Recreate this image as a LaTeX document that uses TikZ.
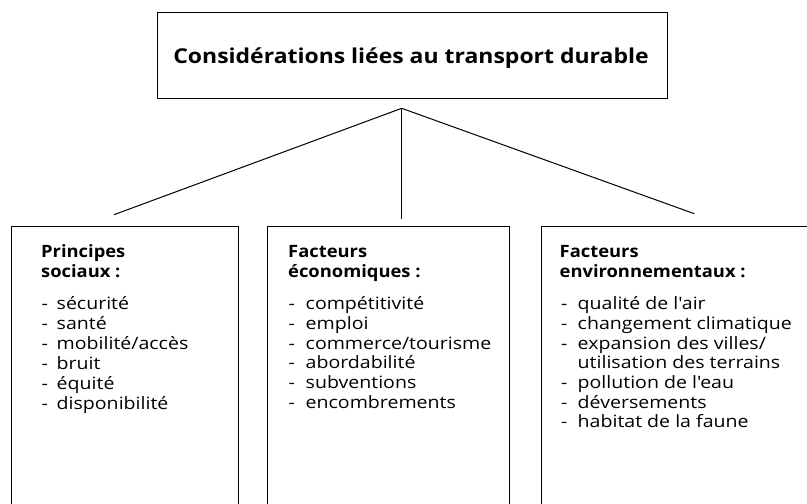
\documentclass[tikz,border=0pt]{standalone}
\usepackage{fontspec}
\setmainfont{Open Sans}[Ligatures=TeXOff]
% slightly widened cuts of the same family for the different text blocks
\newfontfamily\titlefam{Open Sans}[Ligatures=TeXOff,FakeStretch=1.12]
\newfontfamily\headfam{Open Sans}[Ligatures=TeXOff,FakeStretch=1.08]
\newfontfamily\itemfam{Open Sans}[Ligatures=TeXOff,FakeStretch=1.15]
\begin{document}
\begin{tikzpicture}[x=1pt,y=-1pt,
  boxline/.style={draw=black,line width=1.1pt},
  link/.style={draw=black,line width=1pt},
  head/.style={anchor=base west,inner sep=0pt,font=\headfam\fontsize{17}{20}\selectfont\bfseries},
  item/.style={anchor=base west,inner sep=0pt,font=\itemfam\fontsize{17}{20}\selectfont},
  title/.style={font=\titlefam\fontsize{20.5}{24}\selectfont\bfseries,inner sep=0pt}]
\useasboundingbox (0,0) rectangle (807,504);
\clip (0,0) rectangle (807,504);

% top box
\node[boxline,minimum width=510pt,minimum height=86.5pt,anchor=north west,inner sep=0pt] (top) at (156.7,11.8) {};
\node[title,anchor=base] (toptxt) at (411,63) {Considérations liées au transport durable};

% connectors
\coordinate (apex) at (401.7,108.3);
\coordinate (endL) at (114,214.7);
\coordinate (endM) at (401.7,219);
\coordinate (endR) at (694.3,213.7);
\draw[link] (endL) -- (apex) -- (endR);
\draw[link] (apex) -- (endM);

% lower boxes (continue past the frame)
\node[boxline,minimum width=227pt,minimum height=320pt,anchor=north west,inner sep=0pt] (soc) at (11,225.8) {};
\node[boxline,minimum width=242pt,minimum height=320pt,anchor=north west,inner sep=0pt] (eco) at (267,225.8) {};
\node[boxline,minimum width=320pt,minimum height=320pt,anchor=north west,inner sep=0pt] (env) at (541,225.8) {};

% social
\node[head] (socH1) at (41,257.5) {Principes};
\node[head] (socH2) at (41,277) {sociaux :};
\foreach \t [count=\i from 0] in {sécurité,santé,mobilité/accès,bruit,équité,disponibilité}{
  \node[item] (socD\i) at (41.5,309.5+20*\i) {-};
  \node[item] (socI\i) at (56.5,309.5+20*\i) {\t};
}

% economic
\node[head] (ecoH1) at (288,257.5) {Facteurs};
\node[head] (ecoH2) at (288,277) {économiques :};
\foreach \t [count=\i from 0] in {compétitivité,emploi,commerce/tourisme,abordabilité,subventions,encombrements}{
  \node[item] (ecoD\i) at (288.5,309.5+19.8*\i) {-};
  \node[item] (ecoI\i) at (305.5,309.5+19.8*\i) {\t};
}

% environmental
\node[head] (envH1) at (559.5,257.5) {Facteurs};
\node[head] (envH2) at (559.5,277) {environnementaux :};
\node[item] (envD0) at (561,309.5) {-};
\node[item] (envI0) at (577.5,309.5) {qualité de l'air};
\node[item] (envD1) at (561,329.3) {-};
\node[item] (envI1) at (577.5,329.3) {changement climatique};
\node[item] (envD2) at (561,349.1) {-};
\node[item] (envI2) at (577.5,349.1) {expansion des villes/};
\node[item] (envI2b) at (577.5,368.5) {utilisation des terrains};
\node[item] (envD3) at (561,388.3) {-};
\node[item] (envI3) at (577.5,388.3) {pollution de l'eau};
\node[item] (envD4) at (561,408) {-};
\node[item] (envI4) at (577.5,408) {déversements};
\node[item] (envD5) at (561,427.5) {-};
\node[item] (envI5) at (577.5,427.5) {habitat de la faune};
\end{tikzpicture}
\end{document}
